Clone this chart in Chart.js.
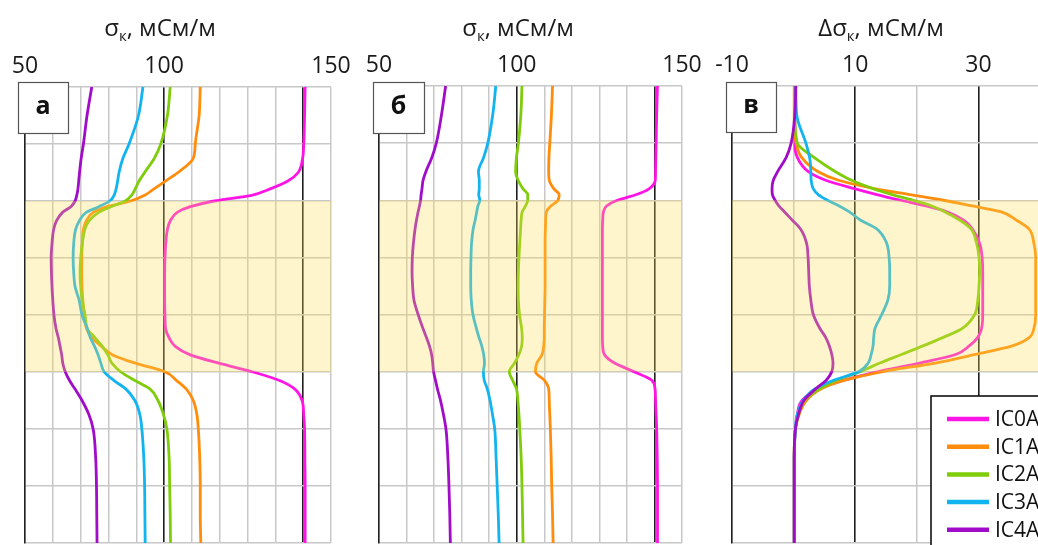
<!DOCTYPE html>
<html>
<head>
<meta charset="utf-8">
<script src="https://cdn.jsdelivr.net/npm/chart.js@4.4.1/dist/chart.umd.min.js"></script>
<style>
  html, body { margin: 0; padding: 0; background: #fff; overflow: hidden; }
  body { width: 1038px; height: 545px; position: relative; }
  canvas { position: absolute; top: 0; }
</style>
</head>
<body>
<canvas id="chartA" width="360" height="545" style="left:0px"></canvas>
<canvas id="chartB" width="375" height="545" style="left:345px"></canvas>
<canvas id="chartV" width="400" height="545" style="left:700px"></canvas>
<script>
// depth (grid units, top = 0), shared by all profiles
const depth = [0, 0.5, 1, 1.25, 1.5, 1.65, 1.8, 1.9, 2, 2.1, 2.2, 2.35, 2.5, 2.75, 3, 3.25, 3.5, 3.75, 4, 4.25,
               4.4, 4.55, 4.7, 4.85, 5, 5.15, 5.3, 5.5, 5.75, 6, 6.5, 7, 7.5, 8]
const seriesNames = ['IC0A', 'IC1A', 'IC2A', 'IC3A', 'IC4A']
// shaded layer, in depth units
const shadeFrom = 2
const shadeTo = 5

// panel а, σк
const sigmaA_IC0A = [150.7, 150.5, 150.2, 149.8, 148.2, 144.5, 137.5, 131.5, 118, 109.4, 104.7, 102.2, 101.2, 100.6, 100.3, 100.2, 100.2,
                     100.2, 100.3, 100.6, 101.8, 104, 109.4, 120, 132, 141.5, 147, 149.6, 150.2, 150.5, 150.6, 150.7, 150.7, 150.7]
const sigmaA_IC1A = [113, 112.6, 111.2, 110.5, 105, 100.5, 96, 93, 88, 79.5, 74.5, 72, 71, 70.6, 70.4, 70.4, 70.5,
                     70.8, 71.3, 72.2, 74, 77.5, 81.5, 90, 100.5, 104.5, 108, 110.5, 111.8, 112.3, 112.8, 113, 113, 113.2]
const sigmaA_IC2A = [102.2, 101.2, 98.8, 96.5, 93, 91, 89.5, 88.3, 86, 81, 76.5, 73, 71.5, 70.6, 70, 69.8, 70,
                     70.6, 71.6, 72.5, 75.2, 77.8, 79.8, 81.3, 84.5, 89.5, 95, 97.8, 99.8, 101, 101.8, 102, 102.2, 102.3]
const sigmaA_IC3A = [92.4, 90.8, 87.4, 85.2, 83.8, 83.3, 82.7, 82, 80.5, 76.5, 72, 69.5, 68.2, 67.5, 67.3, 67.5, 68,
                     69.5, 70.5, 72.5, 73.5, 75, 76.3, 77.3, 78.5, 82, 86.3, 89.5, 91.3, 92, 92.7, 93, 93.1, 93.2]
const sigmaA_IC4A = [74, 72.3, 71, 70.2, 69.6, 69.3, 69, 68.6, 68, 66.5, 63.5, 61.3, 60.3, 59.7, 59.4, 59.5, 59.7,
                     60, 60.4, 61.2, 62, 62.6, 63.2, 63.6, 64.5, 66, 68, 70.5, 73, 74.5, 75.4, 75.7, 75.8, 75.9]

// panel б, σк
const sigmaB_IC0A = [151.1, 150.8, 150.6, 150.5, 150.4, 150.3, 148, 143.5, 136.5, 132.6, 131.5, 131.2, 131.1, 131.1, 131.1, 131.1, 131.1,
                     131.1, 131.1, 131.1, 131.1, 131.2, 131.8, 135.5, 142.5, 149, 150.2, 150.4, 150.6, 150.8, 151, 151.1, 151.1, 151.1]
const sigmaB_IC1A = [113, 112.6, 112, 111.7, 111.6, 111.8, 113.5, 115.4, 115, 112.4, 110.8, 110.5, 110.4, 110.3, 110.3, 110.3, 110.3,
                     110.2, 110.1, 110, 110, 109.8, 109.2, 107.3, 106.8, 110, 111.6, 111.8, 112, 112.2, 112.5, 112.7, 113, 113.2]
const sigmaB_IC2A = [101.9, 101.5, 100.6, 99.9, 99.6, 100.5, 102.3, 104, 104, 103.2, 102, 101.6, 101.4, 101.1, 100.8, 100.6, 100.5,
                     100.6, 101, 101.8, 102, 101.8, 100.8, 99.2, 97.3, 98.5, 99.9, 100.4, 100.8, 101.1, 101.6, 101.9, 102.1, 102.3]
const sigmaB_IC3A = [92.4, 91.3, 89.5, 88, 86.1, 86.4, 86.4, 86.2, 86.6, 85.9, 85.5, 84.9, 84.2, 83.6, 83.4, 83.3, 83.3,
                     83.5, 84.1, 85.4, 86.3, 87.3, 88, 88.3, 87.9, 88.2, 89.3, 90.3, 91.2, 92, 92.5, 92.9, 93.3, 93.6]
const sigmaB_IC4A = [74.2, 72.7, 70.8, 69.2, 67, 66, 65.6, 65.3, 65.1, 64.7, 64.2, 63.6, 63.1, 62.5, 62.1, 62, 62.2,
                     62.7, 64.2, 66, 67.2, 68.3, 69.1, 69.5, 69.8, 70.5, 71.2, 72.3, 73.4, 74.3, 75, 75.4, 75.7, 75.9]

// panel в, Δσк
const deltaV_IC0A = [0.2, 0.2, 0.2, 0.6, 2.4, 5.2, 10, 13.5, 17.4, 21.5, 24.8, 27.6, 29, 30.2, 30.6, 30.7, 30.7,
                     30.7, 30.7, 30.5, 29.9, 28.5, 26.3, 20.5, 13.8, 8.2, 4.1, 1.4, 0.6, 0.3, 0.1, 0.1, 0.1, 0.1]
const deltaV_IC1A = [0.1, 0.1, 0.4, 1.3, 4, 7.3, 13.3, 18.8, 24.3, 29, 33.6, 36.2, 38.2, 39, 39.3, 39.3, 39.3,
                     39.3, 39.3, 39, 38.3, 35.5, 29.5, 23, 14.5, 8.3, 4.5, 2.1, 0.9, 0.3, 0.1, 0.1, 0.1, 0.1]
const deltaV_IC2A = [0.3, 0.2, 0.6, 3.3, 6.8, 9.4, 13, 16, 19.4, 22.4, 24.5, 27, 28.8, 29.7, 30.1, 30.2, 30.1,
                     29.9, 29.4, 27.3, 24.3, 21, 17.5, 14, 10.8, 7, 4.2, 1.8, 0.8, 0.3, 0.1, 0.1, 0.1, 0.1]
const deltaV_IC3A = [0.35, 0.5, 2, 2.6, 2.8, 2.85, 3.2, 4, 5.5, 7.4, 9, 10.9, 13.5, 15.1, 15.5, 15.6, 15.6,
                     15.3, 14.3, 13.2, 13, 12.9, 12.6, 12.1, 10.6, 6.5, 3.5, 1.6, 0.6, 0.3, 0.1, 0.1, 0.1, 0.1]
const deltaV_IC4A = [0.35, 0.2, -0.4, -1.2, -2.6, -3.3, -3.5, -3.45, -3, -2.4, -1.5, -0.2, 1.1, 2.1, 2.35, 2.45, 2.55,
                     2.8, 3.2, 4.3, 5.2, 5.8, 6.2, 6.4, 6.2, 5.3, 3.6, 1.7, 0.8, 0.3, 0.1, 0.1, 0.1, 0.1]

// tick labels; in the source figure "150" sits on the right frame (160)
const sigmaTickValues = [50, 100, 160]
const sigmaTickTexts = ['50', '100', '150']
const sigmaDarkLines = [100, 150]
const deltaTickValues = [-10, 10, 30]
const deltaTickTexts = ['-10', '10', '30']
const deltaDarkLines = [10, 30]

const colors = ['#ff14e6', '#ff8c0a', '#7fcc0a', '#12b4f0', '#a00cc8']
const FONT = "'Open Sans', 'DejaVu Sans', sans-serif"

function makeDatasets(list) {
    let sets = []
    for (let i = 0; i < list.length; i++) {
        sets.push({
            label: seriesNames[i],
            data: depth.map((d, k) => ({x: list[i][k], y: d})),
            borderColor: colors[i],
            borderWidth: 2.8,
            pointRadius: 0,
            fill: false,
            cubicInterpolationMode: 'monotone',
            order: list.length - i   // last series on top, like the source
        })
    }
    return sets
}

// shaded layer over the lines, title with subscript, panel letter, legend
const panelDecor = {
    id: 'panelDecor',
    afterDatasetsDraw(chart, args, opts) {
        const ctx = chart.ctx
        const area = chart.chartArea
        const yScale = chart.scales.y
        let top = yScale.getPixelForValue(shadeFrom)
        let bottom = yScale.getPixelForValue(shadeTo)
        ctx.save()
        ctx.fillStyle = 'rgba(255, 222, 85, 0.3)'
        ctx.fillRect(area.left, top, area.right - area.left, bottom - top)
        ctx.restore()
    },
    afterDraw(chart, args, opts) {
        const ctx = chart.ctx
        ctx.save()
        // title
        const big = '24px ' + FONT
        const small = '15px ' + FONT
        let widths = opts.title.map(p => { ctx.font = p.sub ? small : big; return ctx.measureText(p.t).width })
        let x = opts.titleX - widths.reduce((a, b) => a + b, 0) / 2
        ctx.fillStyle = '#1a1a1a'
        ctx.textBaseline = 'alphabetic'
        ctx.textAlign = 'left'
        for (let i = 0; i < opts.title.length; i++) {
            ctx.font = opts.title[i].sub ? small : big
            ctx.fillText(opts.title[i].t, x, opts.titleY + (opts.title[i].sub ? 5 : 0))
            x += widths[i]
        }
        // panel letter box
        const b = opts.box
        ctx.fillStyle = '#fff'
        ctx.fillRect(b[0], b[1], b[2], b[3])
        ctx.strokeStyle = '#555'
        ctx.lineWidth = 1.2
        ctx.strokeRect(b[0] + 0.5, b[1] + 0.5, b[2], b[3])
        ctx.fillStyle = '#111'
        ctx.font = 'bold 25px ' + FONT
        ctx.textAlign = 'center'
        ctx.textBaseline = 'middle'
        ctx.fillText(opts.letter, b[0] + b[2] / 2, b[1] + b[3] / 2 - 1)
        // legend
        if (opts.legend) {
            const lg = opts.legend
            ctx.fillStyle = '#fff'
            ctx.fillRect(lg.x, lg.y, 300, 300)
            ctx.strokeStyle = '#111'
            ctx.lineWidth = 1.6
            ctx.strokeRect(lg.x, lg.y, 300, 300)
            ctx.font = '21px ' + FONT
            ctx.textAlign = 'left'
            ctx.textBaseline = 'middle'
            chart.data.datasets.forEach((ds, i) => {
                let yy = lg.y + lg.first + i * lg.step
                ctx.strokeStyle = ds.borderColor
                ctx.lineWidth = 4.5
                ctx.beginPath()
                ctx.moveTo(lg.x + 16, yy)
                ctx.lineTo(lg.x + 58, yy)
                ctx.stroke()
                ctx.fillStyle = '#111'
                ctx.fillText(ds.label, lg.x + 64, yy + 1)
            })
        }
        ctx.restore()
    }
}

function makeOptions(cfg) {
    return {
        responsive: false,
        animation: false,
        indexAxis: 'y',
        layout: {padding: {left: 0, right: cfg.padRight, top: 0, bottom: 2}},
        plugins: {
            legend: {display: false},
            tooltip: {enabled: false},
            panelDecor: cfg.decor
        },
        scales: {
            x: {
                type: 'linear',
                position: 'top',
                min: cfg.min,
                max: cfg.max,
                afterFit: s => { s.height = cfg.top },
                border: {display: false},
                grid: {
                    drawTicks: false,
                    color: c => cfg.dark.includes(c.tick.value) ? '#1e1e1e' : '#c8c8c8',
                    lineWidth: c => cfg.dark.includes(c.tick.value) ? 1.6 : 1.5
                },
                ticks: {
                    stepSize: 10,
                    autoSkip: false,
                    maxRotation: 0,
                    padding: 7,
                    color: '#1a1a1a',
                    font: {family: FONT, size: 23},
                    callback: v => {
                        let k = cfg.tickValues.indexOf(v)
                        return k >= 0 ? cfg.tickTexts[k] : ''
                    }
                }
            },
            y: {
                type: 'linear',
                reverse: true,
                min: 0,
                max: 8,
                afterFit: s => { s.width = cfg.left },
                border: {display: true, color: '#222', width: 1.6},
                grid: {drawTicks: false, color: '#c8c8c8', lineWidth: 1.5},
                ticks: {display: false, stepSize: 1}
            }
        }
    }
}

const sigmaTitle = [{t: 'σ'}, {t: 'к', sub: true}, {t: ', мСм/м'}]
const deltaTitle = [{t: 'Δσ'}, {t: 'к', sub: true}, {t: ', мСм/м'}]

new Chart(document.getElementById('chartA'), {
    type: 'line',
    data: {datasets: makeDatasets([sigmaA_IC0A, sigmaA_IC1A, sigmaA_IC2A, sigmaA_IC3A, sigmaA_IC4A])},
    options: makeOptions({
        min: 50, max: 160, left: 25, top: 87, padRight: 29,
        tickValues: sigmaTickValues, tickTexts: sigmaTickTexts, dark: sigmaDarkLines,
        decor: {title: sigmaTitle, titleX: 160, titleY: 36, letter: 'а', box: [18, 82, 50, 51]}
    }),
    plugins: [panelDecor]
})

new Chart(document.getElementById('chartB'), {
    type: 'line',
    data: {datasets: makeDatasets([sigmaB_IC0A, sigmaB_IC1A, sigmaB_IC2A, sigmaB_IC3A, sigmaB_IC4A])},
    options: makeOptions({
        min: 50, max: 160, left: 34, top: 86, padRight: 38,
        tickValues: sigmaTickValues, tickTexts: sigmaTickTexts, dark: sigmaDarkLines,
        decor: {title: sigmaTitle, titleX: 173, titleY: 36, letter: 'б', box: [28, 82, 51, 51]}
    }),
    plugins: [panelDecor]
})

new Chart(document.getElementById('chartV'), {
    type: 'line',
    data: {datasets: makeDatasets([deltaV_IC0A, deltaV_IC1A, deltaV_IC2A, deltaV_IC3A, deltaV_IC4A])},
    options: makeOptions({
        min: -10, max: 40, left: 32, top: 86, padRight: 60,
        tickValues: deltaTickValues, tickTexts: deltaTickTexts, dark: deltaDarkLines,
        decor: {title: deltaTitle, titleX: 181, titleY: 36, letter: 'в', box: [26, 82, 50, 50],
                legend: {x: 231, y: 396, first: 23, step: 27.7}}
    }),
    plugins: [panelDecor]
})
</script>
</body>
</html>
